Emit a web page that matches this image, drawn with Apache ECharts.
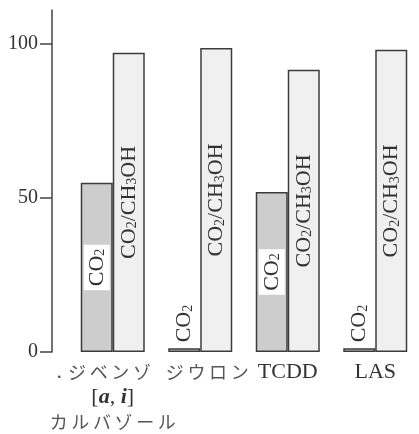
<!DOCTYPE html>
<html>
<head>
<meta charset="utf-8">
<script src="https://cdn.jsdelivr.net/npm/echarts@6/dist/echarts.min.js"></script>
<style>
html,body{margin:0;padding:0;background:#fff;}
#c{width:419px;height:434px;}
</style>
</head>
<body>
<div id="c"></div>
<script>
const categories = ['ジベンゾカルバゾール', 'ジウロン', 'TCDD', 'LAS'];
const co2Values = [54.9, 1.2, 51.9, 1.2];
const co2Ch3ohValues = [97.1, 98.7, 91.6, 98.1];
const yTicks = [0, 50, 100];

const SERIF = '"Liberation Serif", "DejaVu Serif", serif';
const JP = '"Noto Sans CJK JP", sans-serif';
const T = '\u2009';

const chart = echarts.init(document.getElementById('c'), null, {renderer: 'canvas'});

const subRich = {
  m: {fontFamily: SERIF, fontSize: 22, color: '#333', lineHeight: 26},
  s: {fontFamily: SERIF, fontSize: 14, color: '#333', verticalAlign: 'bottom', lineHeight: 26, padding: [0, 0, 2, 0]}
};
const co2Text = '{m|CO}{s|2}';
const co2Ch3ohText = '{m|CO}{s|2}{m|/CH}{s|3}{m|OH}';

const insideCo2Label = {
  show: true, position: 'inside', rotate: 90,
  formatter: co2Text, rich: subRich,
  backgroundColor: '#fff', padding: [0, 4, 0, 4]
};
const topCo2Label = {
  show: true, position: 'top', rotate: 90, distance: 6,
  align: 'left', verticalAlign: 'middle',
  formatter: co2Text, rich: subRich
};

const option = {
  animation: false,
  backgroundColor: '#fff',
  grid: {left: 69, right: -18, top: 10, bottom: 82, containLabel: false},
  xAxis: {
    type: 'category',
    data: categories,
    axisLine: {show: false},
    axisTick: {show: false},
    axisLabel: {
      margin: 8,
      interval: 0,
      formatter: function (v, i) {
        if (i === 0) {
          return '{dot|.}{jp1|' + ['ジ','ベ','ン','ゾ'].join(T) + '}\n{br|[}{it|a}{br|,\u00a0}{it|i}{br|]}\n{jp|' + ['カ','ル','バ','ゾ','ー','ル'].join(T) + '}';
        }
        if (i === 1) return '{jp2|' + ['ジ','ウ','ロ','ン'].join(T) + '}';
        return '{lat|' + v + '}';
      },
      rich: {
        dot: {fontFamily: SERIF, fontSize: 22, color: '#555', lineHeight: 24, padding: [0, 6, 0, 0]},
        jp1: {fontFamily: JP, fontSize: 18, color: '#555', lineHeight: 24, padding: [0, 18, 0, 0]},
        jp2: {fontFamily: JP, fontSize: 18, color: '#555', lineHeight: 24, padding: [0, 0, 0, 14]},
        jp: {fontFamily: JP, fontSize: 18, color: '#555', lineHeight: 24},
        br: {fontFamily: SERIF, fontSize: 22, color: '#333', lineHeight: 26},
        it: {fontFamily: SERIF, fontSize: 22, color: '#333', lineHeight: 26, fontStyle: 'italic', fontWeight: 'bold'},
        lat: {fontFamily: SERIF, fontSize: 22, color: '#333', lineHeight: 24}
      }
    }
  },
  yAxis: {
    type: 'value',
    min: 0,
    max: 111,
    interval: 50,
    offset: 17,
    splitLine: {show: false},
    axisLine: {show: true, lineStyle: {color: '#444', width: 1.5}},
    axisTick: {show: true, length: 12, customValues: yTicks, lineStyle: {color: '#444', width: 1.5}},
    axisLabel: {
      customValues: yTicks,
      margin: 14,
      fontFamily: SERIF, fontSize: 20, color: '#333'
    }
  },
  series: [
    {
      name: 'CO2',
      type: 'bar',
      barWidth: 32,
      barGap: '0%',
      itemStyle: {color: '#cdcdcd', borderColor: '#3c3c3c', borderWidth: 1.5},
      data: co2Values.map(v => ({value: v, label: v > 10 ? insideCo2Label : topCo2Label}))
    },
    {
      name: 'CO2/CH3OH',
      type: 'bar',
      barWidth: 32,
      barGap: '0%',
      itemStyle: {color: '#f0f0f0', borderColor: '#3c3c3c', borderWidth: 1.5},
      label: {show: true, position: 'inside', rotate: 90, formatter: co2Ch3ohText, rich: subRich},
      data: co2Ch3ohValues
    }
  ]
};
chart.setOption(option);
</script>
</body>
</html>
